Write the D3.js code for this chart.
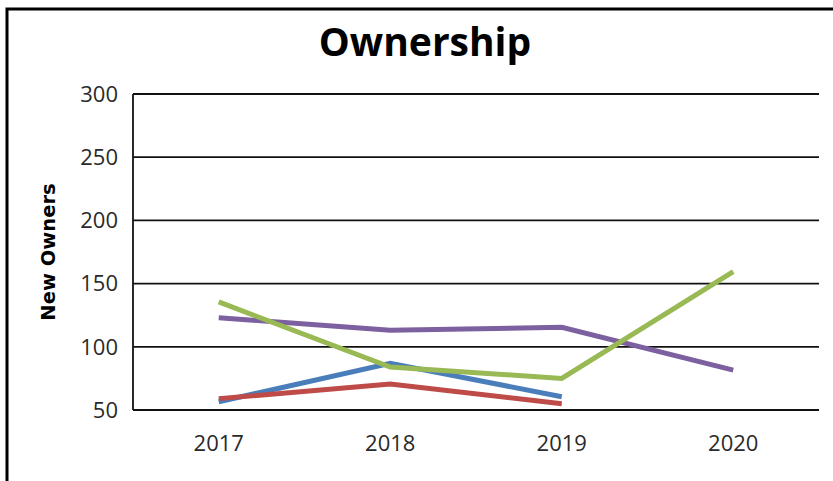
<!DOCTYPE html>
<html>
<head>
<meta charset="utf-8">
<script src="https://cdn.jsdelivr.net/npm/d3@7"></script>
<style>
  body { margin: 0; background: #fff; }
  svg { display: block; }
</style>
</head>
<body>
<div id="chart"></div>
<script>
// chart data
var years = ['2017', '2018', '2019', '2020'];
var yTicks = [50, 100, 150, 200, 250, 300];
var seriesBlue = [56.5, 87, 60.5, null];
var seriesRed = [59, 70.5, 55, null];
var seriesPurple = [123, 113, 115.5, 81.5];
var seriesGreen = [135.5, 84, 75, 159.5];
var seriesColors = ['#4a7ebb', '#be4b48', '#7d60a0', '#98b954'];

function drawChart(divId) {
  var width = 833, height = 481;
  var left = 133, right = 819, top = 94, bottom = 410;

  var svg = d3.select(divId)
    .append('svg')
    .attr('width', width)
    .attr('height', height);

  // outer frame (cropped on the right and bottom)
  svg.append('path')
    .attr('d', `M7,${height} V9 H${width}`)
    .attr('fill', 'none')
    .attr('stroke', '#000')
    .attr('stroke-width', 3);

  var x = d3.scalePoint().domain(years).range([left, right]).padding(0.5);
  var y = d3.scaleLinear().domain([50, 300]).range([bottom, top]);

  // gridlines
  svg.append('g')
    .selectAll('line')
    .data(yTicks)
    .enter()
    .append('line')
    .attr('x1', left)
    .attr('x2', right)
    .attr('y1', d => y(d))
    .attr('y2', d => y(d))
    .attr('stroke', '#111')
    .attr('stroke-width', 1.8);

  // left axis line
  svg.append('line')
    .attr('x1', left).attr('x2', left)
    .attr('y1', top).attr('y2', bottom)
    .attr('stroke', '#111')
    .attr('stroke-width', 1.8);

  // y tick labels
  svg.append('g')
    .selectAll('text')
    .data(yTicks)
    .enter()
    .append('text')
    .attr('x', 118)
    .attr('y', d => y(d))
    .attr('dy', '0.35em')
    .attr('text-anchor', 'end')
    .style('font-family', '"Open Sans", "DejaVu Sans", sans-serif')
    .style('font-size', '22px')
    .style('fill', '#2a2a2a')
    .text(d => d);

  // x tick labels
  svg.append('g')
    .selectAll('text')
    .data(years)
    .enter()
    .append('text')
    .attr('x', d => x(d))
    .attr('y', 443)
    .attr('dy', '0.35em')
    .attr('text-anchor', 'middle')
    .style('font-family', '"Open Sans", "DejaVu Sans", sans-serif')
    .style('font-size', '22px')
    .style('fill', '#2a2a2a')
    .text(d => d);

  // title
  svg.append('text')
    .attr('x', 425)
    .attr('y', 56)
    .attr('text-anchor', 'middle')
    .style('font-family', '"Open Sans", "DejaVu Sans", sans-serif')
    .style('font-weight', 'bold')
    .style('font-size', '39px')
    .style('fill', '#000')
    .text('Ownership');

  // y axis title
  svg.append('text')
    .attr('transform', 'translate(55,252) rotate(-90)')
    .attr('text-anchor', 'middle')
    .style('font-family', '"DejaVu Sans", sans-serif')
    .style('font-weight', 'bold')
    .style('font-size', '19.5px')
    .style('fill', '#000')
    .text('New Owners');

  var series = [seriesBlue, seriesRed, seriesPurple, seriesGreen];

  var line = d3.line()
    .defined(d => d != null)
    .x((d, i) => x(years[i]))
    .y(d => y(d));

  svg.append('g')
    .selectAll('path')
    .data(series)
    .enter()
    .append('path')
    .attr('d', d => line(d))
    .attr('fill', 'none')
    .attr('stroke', (d, i) => seriesColors[i])
    .attr('stroke-width', 5)
    .attr('stroke-linejoin', 'miter');
}

drawChart('#chart');
</script>
</body>
</html>
